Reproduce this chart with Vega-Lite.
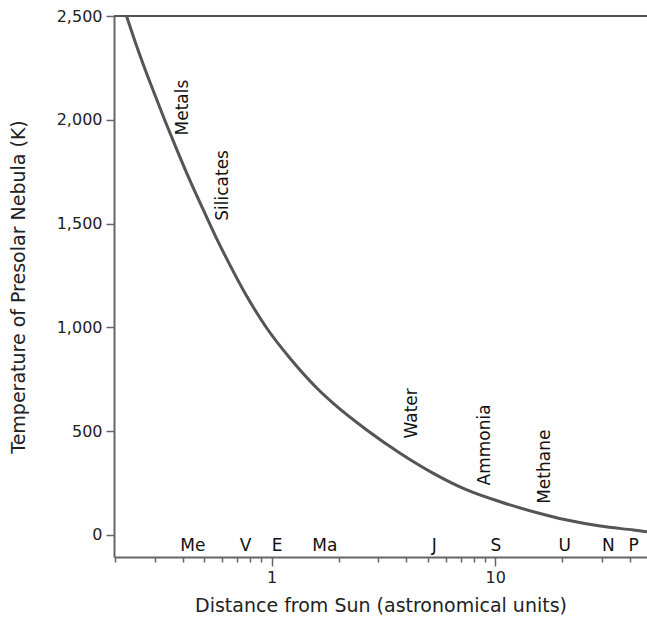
{
  "$schema": "https://vega.github.io/schema/vega-lite/v6.json",
  "width": 533,
  "height": 541,
  "autosize": {"type": "none"},
  "padding": {"left": 114, "top": 16, "right": 0, "bottom": 62},
  "background": "white",
  "config": {"view": {"stroke": null}, "font": "DejaVu Sans"},
  "datasets": {
    "curve": [
      {"au": 0.2242, "temp": 2500},
      {"au": 0.2443, "temp": 2380},
      {"au": 0.2661, "temp": 2268},
      {"au": 0.295, "temp": 2141},
      {"au": 0.3328, "temp": 1997},
      {"au": 0.3755, "temp": 1859},
      {"au": 0.4306, "temp": 1708},
      {"au": 0.494, "temp": 1567},
      {"au": 0.5672, "temp": 1428},
      {"au": 0.6508, "temp": 1300},
      {"au": 0.7727, "temp": 1151},
      {"au": 0.9497, "temp": 997},
      {"au": 1.208, "temp": 851},
      {"au": 1.591, "temp": 708},
      {"au": 1.887, "temp": 634},
      {"au": 2.663, "temp": 506},
      {"au": 3.755, "temp": 394},
      {"au": 5.292, "temp": 297},
      {"au": 7.469, "temp": 217},
      {"au": 10.53, "temp": 160},
      {"au": 14.85, "temp": 112},
      {"au": 20.95, "temp": 72},
      {"au": 29.53, "temp": 43},
      {"au": 41.63, "temp": 24},
      {"au": 47.8, "temp": 16}
    ],
    "planets": [
      {"name": "Me", "au": 0.39},
      {"name": "V", "au": 0.72},
      {"name": "E", "au": 1.0},
      {"name": "Ma", "au": 1.52},
      {"name": "J", "au": 5.2},
      {"name": "S", "au": 9.54},
      {"name": "U", "au": 19.2},
      {"name": "N", "au": 30.1},
      {"name": "P", "au": 39.5}
    ],
    "condensates": [
      {"name": "Metals", "au": 0.4, "temp": 2059},
      {"name": "Silicates", "au": 0.607, "temp": 1684},
      {"name": "Water", "au": 4.24, "temp": 586},
      {"name": "Ammonia", "au": 9.02, "temp": 434},
      {"name": "Methane", "au": 16.75, "temp": 329}
    ],
    "top": [{"temp": 2500}]
  },
  "layer": [
    {
      "data": {"name": "curve"},
      "mark": {"type": "line", "color": "#555555", "strokeWidth": 3, "interpolate": "monotone"},
      "encoding": {
        "x": {
          "field": "au",
          "type": "quantitative",
          "scale": {"type": "log", "domain": [0.197, 47.8], "nice": false},
          "axis": {
            "title": "Distance from Sun (astronomical units)",
            "titleFontSize": 19,
            "titleFontWeight": "normal",
            "titleColor": "#222222",
            "titleY": 48,
            "titleBaseline": "middle",
            "values": [0.2, 0.3, 0.4, 0.5, 0.6, 0.7, 0.8, 0.9, 1, 2, 3, 4, 5, 6, 7, 8, 9, 10, 20, 30, 40],
            "labelExpr": "datum.value == 1 ? '1' : (datum.value == 10 ? '10' : '')",
            "labelFontSize": 16,
            "labelColor": "#222222",
            "labelPadding": 3,
            "labelFlush": false,
            "labelOverlap": false,
            "grid": false,
            "domainColor": "#666666",
            "domainWidth": 2,
            "tickColor": "#666666",
            "tickWidth": 1.5,
            "tickSize": {"condition": {"test": "datum.value == 1 || datum.value == 10", "value": 9}, "value": 5}
          }
        },
        "y": {
          "field": "temp",
          "type": "quantitative",
          "scale": {"domain": [-106, 2500], "nice": false, "zero": false},
          "axis": {
            "title": "Temperature of Presolar Nebula (K)",
            "titleFontSize": 19,
            "titleFontWeight": "normal",
            "titleColor": "#222222",
            "titleX": -96,
            "titleBaseline": "middle",
            "values": [0, 500, 1000, 1500, 2000, 2500],
            "format": ",d",
            "labelFontSize": 16,
            "labelColor": "#222222",
            "labelPadding": 4,
            "grid": false,
            "domainColor": "#666666",
            "domainWidth": 2,
            "tickColor": "#666666",
            "tickWidth": 1.5,
            "tickSize": 8
          }
        }
      }
    },
    {
      "data": {"name": "top"},
      "mark": {"type": "rule", "color": "#555555", "strokeWidth": 2},
      "encoding": {"y": {"field": "temp", "type": "quantitative"}}
    },
    {
      "data": {"name": "planets"},
      "mark": {"type": "text", "align": "left", "baseline": "middle", "fontSize": 17, "color": "#111111"},
      "encoding": {
        "x": {"field": "au", "type": "quantitative"},
        "y": {"datum": -53, "type": "quantitative"},
        "text": {"field": "name"}
      }
    },
    {
      "data": {"name": "condensates"},
      "mark": {"type": "text", "align": "center", "baseline": "middle", "angle": 270, "fontSize": 17, "color": "#111111"},
      "encoding": {
        "x": {"field": "au", "type": "quantitative"},
        "y": {"field": "temp", "type": "quantitative"},
        "text": {"field": "name"}
      }
    }
  ]
}
